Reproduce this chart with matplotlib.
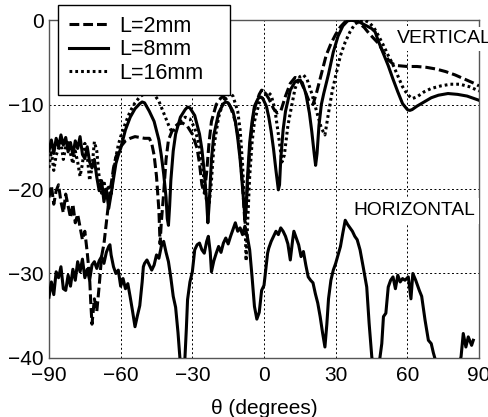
"""
Radiation patterns vs. angle for three slot lengths (vertical cut)
plus the horizontal cut, normalised to the main-lobe peak.
"""

import numpy as np
import matplotlib
matplotlib.use("Agg")
import matplotlib.pyplot as plt

# (theta in degrees, normalised gain in dB)
VERT_L2 = [
    (-90, -21.0), (-89, -19.6), (-88, -21.8), (-87, -20.2), (-86, -19.5),
    (-85, -21.5), (-84, -22.8), (-83, -20.6), (-82, -22.0), (-81, -23.4),
    (-80, -21.8), (-79, -24.0), (-78, -23.0), (-77, -24.5), (-76, -26.0),
    (-75, -25.0), (-74, -27.5), (-73, -30.5), (-72.5, -33.5), (-72, -36.0),
    (-71, -33.0), (-70, -34.5), (-69, -31.5), (-68, -28.0), (-67, -26.5),
    (-66, -24.0), (-65, -21.5), (-64, -19.5), (-63, -17.5), (-62, -16.2),
    (-60, -15.0), (-58, -14.3), (-56, -14.0), (-54, -13.8), (-52, -13.9),
    (-50, -14.0), (-48, -14.0), (-47, -14.6), (-46, -16.0), (-45, -18.5),
    (-44, -22.5), (-43.5, -26.5), (-43, -24.0), (-42, -20.5), (-41, -16.5),
    (-40, -14.2), (-38, -12.8), (-36, -12.3), (-34, -12.2), (-32, -12.6),
    (-30, -13.5), (-28, -15.2), (-27, -17.0), (-26, -19.5), (-25, -20.5),
    (-24, -18.0), (-23, -14.5), (-22, -12.0), (-20, -10.0), (-18, -9.2),
    (-17, -9.1), (-16, -9.3), (-14, -10.3), (-12, -12.0), (-11, -13.5),
    (-10, -16.0), (-9, -19.5), (-8, -24.0), (-7, -20.0), (-6, -15.5),
    (-5, -12.5), (-4, -10.5), (-2, -8.8), (-1, -8.3), (0, -8.4),
    (2, -9.3), (4, -10.5), (5.5, -11.0), (7, -10.8), (9, -9.0),
    (11, -7.5), (13, -6.8), (15, -7.0), (17, -8.3), (19, -9.7),
    (20.5, -10.0), (22, -8.6), (24, -6.4), (26, -4.2), (28, -2.8),
    (30, -1.7), (32, -0.8), (34, -0.2), (36, 0.0), (38, -0.1),
    (40, -0.4), (42, -0.9), (44, -1.6), (46, -2.2), (48, -2.8),
    (50, -3.8), (52, -4.7), (54, -5.2), (56, -5.4), (60, -5.5),
    (64, -5.5), (68, -5.6), (72, -5.8), (76, -6.1), (80, -6.5),
    (84, -7.0), (88, -7.5), (90, -7.8),
]

VERT_L8 = [
    (-90, -15.5), (-89, -14.2), (-88, -15.8), (-87, -14.0), (-86, -15.0),
    (-85, -13.6), (-84, -14.8), (-83, -13.9), (-82, -15.6), (-81, -14.5),
    (-80, -16.0), (-79, -14.3), (-78, -15.2), (-77, -13.8), (-76, -15.9),
    (-75, -16.4), (-74, -15.0), (-73, -16.8), (-72, -17.5), (-71, -16.5),
    (-70, -18.6), (-69, -20.2), (-68, -19.0), (-67, -21.5), (-66, -20.0),
    (-65, -22.3), (-64, -20.6), (-63, -18.8), (-62, -17.0), (-61, -16.0),
    (-60, -15.2), (-58, -13.0), (-56, -11.5), (-54, -10.5), (-52, -9.9),
    (-51, -9.7), (-50, -9.8), (-48, -10.8), (-46, -12.0), (-44, -14.2),
    (-43, -16.0), (-42, -18.2), (-41, -21.0), (-40.5, -23.5), (-40, -24.3),
    (-39.5, -22.0), (-39, -19.0), (-38, -15.5), (-37, -13.5), (-35, -11.5),
    (-33, -10.6), (-32, -10.3), (-31, -10.4), (-29, -11.3), (-27, -13.5),
    (-26, -15.3), (-25, -18.0), (-24, -21.5), (-23.5, -24.0), (-23, -22.0),
    (-22, -16.5), (-21, -13.6), (-19, -11.0), (-17, -9.9), (-16, -9.7),
    (-15, -9.8), (-13, -10.8), (-12, -12.0), (-11, -14.0), (-10, -16.5),
    (-9, -19.8), (-8, -23.3), (-7.5, -22.5), (-7, -19.0), (-6, -14.5),
    (-5, -12.0), (-4, -10.2), (-2.5, -9.3), (-1.5, -9.1), (-0.5, -9.3),
    (1, -10.2), (2, -11.5), (3, -13.2), (4, -15.3), (5, -17.8),
    (6, -20.1), (6.5, -19.5), (7, -16.5), (8, -13.0), (9, -10.8),
    (11, -8.3), (13, -7.3), (14.5, -7.1), (16, -7.4), (17.5, -8.7),
    (19, -11.0), (20, -13.2), (21, -15.8), (21.6, -17.2), (22.2, -15.8),
    (23, -12.5), (24, -10.0), (25, -8.7), (27, -6.4), (29, -3.8),
    (31, -1.9), (33, -0.7), (35, -0.1), (37, 0.0), (39, -0.1),
    (41, -0.4), (43, -0.7), (45, -1.0), (46.5, -1.4), (48, -2.6),
    (50, -4.0), (52, -5.4), (54, -7.0), (56, -8.5), (58, -9.9),
    (60, -10.6), (61, -10.7), (62, -10.6), (64, -10.2), (67, -9.7),
    (70, -9.2), (73, -8.9), (77, -8.7), (81, -8.8), (85, -9.0),
    (88, -9.3), (90, -9.5),
]

VERT_L16 = [
    (-90, -17.5), (-89, -15.5), (-88, -17.8), (-87, -16.0), (-86, -15.2),
    (-85, -14.5), (-84, -16.5), (-83, -15.0), (-82, -14.2), (-81, -15.8),
    (-80, -17.0), (-79, -15.5), (-78, -16.8), (-77, -18.5), (-76, -17.0),
    (-75, -14.6), (-74, -16.0), (-73, -19.0), (-72, -17.5), (-71, -14.4),
    (-70, -15.5), (-69, -18.6), (-68, -20.5), (-67, -19.0), (-66, -21.0),
    (-65, -19.5), (-64, -20.8), (-63, -18.0), (-62, -16.2), (-61, -14.8),
    (-60, -13.8), (-58, -12.2), (-56, -10.8), (-54, -9.8), (-52, -9.1),
    (-50, -8.7), (-48, -8.6), (-46, -8.8), (-44, -9.6), (-42, -11.0),
    (-40, -12.4), (-38.5, -13.3), (-37, -12.8), (-35, -12.0), (-33, -11.5),
    (-31, -11.7), (-29, -12.8), (-27, -15.0), (-25.5, -18.0), (-24, -21.5),
    (-23, -22.0), (-22, -19.0), (-21, -15.0), (-19, -11.5), (-17, -9.6),
    (-15, -8.8), (-14, -8.7), (-13, -9.0), (-11, -10.8), (-10, -13.0),
    (-9, -17.0), (-8, -23.0), (-7.5, -28.5), (-7, -25.0), (-6, -18.5),
    (-5, -14.5), (-4, -12.0), (-2, -9.8), (0, -8.8), (1.5, -8.5),
    (3, -8.9), (4.5, -10.5), (6, -13.5), (7.5, -16.8), (8.5, -16.0),
    (10, -12.5), (11, -11.0), (13, -8.1), (15, -6.7), (16.5, -6.5),
    (18, -7.0), (20, -8.7), (22, -10.8), (24, -12.8), (25.5, -13.6),
    (27, -11.0), (28.5, -8.5), (30, -6.6), (32, -4.2), (34, -2.6),
    (36, -1.4), (38, -0.5), (40, -0.1), (42, 0.0), (44, -0.3),
    (46, -0.9), (48, -1.9), (50, -3.0), (52, -4.2), (54, -5.3),
    (56, -6.6), (58, -7.9), (60, -8.8), (62, -9.3), (64, -9.1),
    (67, -8.5), (70, -8.1), (74, -7.8), (78, -7.6), (82, -7.6),
    (86, -7.9), (90, -8.4),
]

HORIZ_L8 = [
    (-90, -32.8), (-89, -31.0), (-88, -32.5), (-87, -29.8), (-86, -30.5),
    (-85, -29.2), (-84, -31.8), (-83, -32.0), (-82, -30.2), (-81, -31.5),
    (-80, -29.5), (-79, -30.8), (-78, -28.6), (-77, -29.8), (-76, -28.3),
    (-75, -30.5), (-74, -29.5), (-73, -30.8), (-72, -29.0), (-71, -28.6),
    (-70, -29.4), (-69, -28.5), (-68, -28.0), (-67, -28.8), (-66, -27.5),
    (-65, -26.8), (-64.5, -26.6), (-64, -27.8), (-63, -29.2), (-62, -30.0),
    (-61, -29.6), (-60, -31.5), (-59, -30.6), (-58, -31.8), (-57, -31.2),
    (-56, -32.8), (-55, -34.5), (-54, -36.3), (-53, -35.0), (-52, -33.8),
    (-51, -31.0), (-50.5, -29.2), (-50, -28.8), (-49, -28.4), (-48, -29.0),
    (-47, -29.6), (-46, -29.0), (-45, -27.8), (-44, -28.2), (-43, -26.8),
    (-42, -26.2), (-41, -27.5), (-40, -28.6), (-39, -30.5), (-38, -32.7),
    (-37, -34.0), (-36, -37.0), (-35.2, -40.0), (-34, -42.5), (-33.1, -40.0),
    (-32.5, -36.5), (-32, -33.1), (-31, -31.0), (-30, -29.8), (-29, -27.2),
    (-28, -26.6), (-27, -26.4), (-26, -27.2), (-25, -27.6), (-24, -26.2),
    (-23.3, -25.6), (-22.5, -27.5), (-22, -29.8), (-21, -28.5), (-20, -27.6),
    (-19, -26.8), (-18, -27.5), (-17, -26.4), (-16, -25.8), (-15, -26.5),
    (-14, -25.6), (-13, -24.8), (-12, -24.0), (-11, -25.0), (-10, -24.6),
    (-9, -25.4), (-8, -24.4), (-7, -25.6), (-6, -27.2), (-5, -30.4),
    (-4, -33.9), (-3, -35.4), (-2, -34.6), (-1, -32.0), (0, -31.4),
    (1.5, -27.6), (2, -27.0), (3, -26.2), (4, -25.6), (5, -25.0),
    (6, -25.4), (7, -24.6), (8, -25.0), (9, -25.6), (10, -26.5),
    (11, -28.4), (12, -26.0), (12.5, -25.0), (13.5, -25.8), (14.5, -26.6),
    (15.5, -28.0), (16.5, -27.4), (17.5, -29.0), (18.5, -30.4), (19.5, -30.8),
    (20.5, -31.1), (21.5, -32.4), (22.5, -33.5), (23.5, -35.1), (24.5, -37.0),
    (25.5, -38.7), (26.3, -36.0), (27, -33.0), (28, -30.8), (29, -29.6),
    (30, -28.8), (31, -27.8), (32, -26.8), (33, -25.2), (34, -23.7),
    (35, -24.2), (36, -24.6), (37, -25.0), (38, -25.6), (39, -26.0),
    (40.2, -27.2), (41.5, -29.2), (43, -31.6), (44, -35.9), (45.1, -39.8),
    (46, -42.0), (47.8, -41.5), (48.5, -40.0), (49.3, -38.3), (50, -35.1),
    (51, -34.7), (52, -31.6), (53, -30.8), (54, -30.4), (55, -31.8),
    (56, -30.2), (57, -31.0), (58, -30.6), (59, -30.8), (60.4, -30.4),
    (61.5, -33.0), (62.3, -30.0), (63.5, -30.8), (65, -32.0), (66, -32.7),
    (67.4, -35.5), (68.8, -37.9), (70, -38.3), (70.9, -39.4), (71.5, -40.0),
    (72.5, -41.5), (77, -44.0), (82, -40.5), (82.5, -39.8), (83.4, -37.1),
    (84.5, -38.7), (85.5, -37.5), (86.9, -38.5), (87.6, -37.9),
]

X_TICKS = [-90, -60, -30, 0, 30, 60, 90]
Y_TICKS = [-40, -30, -20, -10, 0]

plt.rcParams["font.family"] = ["Liberation Sans", "DejaVu Sans"]

fig = plt.figure(figsize=(4.88, 4.17), dpi=100)
ax = fig.add_axes([0.1004, 0.1415, 0.8812, 0.8105])

LW = 2.2
l2 = np.array(VERT_L2).T
l8 = np.array(VERT_L8).T
l16 = np.array(VERT_L16).T
hz = np.array(HORIZ_L8).T

ax.plot(l2[0], l2[1], color="black", lw=LW, linestyle=(0, (3.2, 1.3)),
        label="L=2mm", zorder=3)
ax.plot(l8[0], l8[1], color="black", lw=LW, linestyle="-",
        label="L=8mm", zorder=3)
ax.plot(l16[0], l16[1], color="black", lw=LW, linestyle=(0, (0.9, 1.0)),
        label="L=16mm", zorder=3)
ax.plot(hz[0], hz[1], color="black", lw=LW, linestyle="-", zorder=3)

ax.set_xlim(-90, 90)
ax.set_ylim(-40, 0)
ax.set_xticks(X_TICKS)
ax.set_yticks(Y_TICKS)
ax.tick_params(labelsize=15, length=0)
ax.tick_params(axis="x", pad=6)
ax.tick_params(axis="y", pad=4)
ax.set_xlabel(r"θ (degrees)", fontsize=15, labelpad=10)

ax.grid(True, color="black", linestyle=(0, (2, 2.5)), linewidth=0.7)
ax.set_axisbelow(True)
for sp in ax.spines.values():
    sp.set_color("#555555")
    sp.set_linewidth(1.0)

ax.text(55.7, -2.2, "VERTICAL", fontsize=14, ha="left", va="center",
        bbox=dict(facecolor="white", edgecolor="none", pad=2.5),
        clip_on=False, zorder=4)
ax.text(37.2, -22.6, "HORIZONTAL", fontsize=13.8, ha="left", va="center",
        bbox=dict(facecolor="white", edgecolor="none", pad=3),
        zorder=4)

# legend box spans a fixed strip above the upper-left corner of the axes
leg = ax.legend(loc="upper left",
                bbox_to_anchor=(0.1189, 0.789, 0.3525, 0.199),
                bbox_transform=fig.transFigure, mode="expand",
                borderaxespad=0, fontsize=15.5, handlelength=1.8,
                handletextpad=0.55, borderpad=0.5, labelspacing=0.12,
                fancybox=False, framealpha=1, edgecolor="black")
leg.get_frame().set_linewidth(1.0)
leg.set_zorder(5)

fig.savefig("out.png", dpi=100)
